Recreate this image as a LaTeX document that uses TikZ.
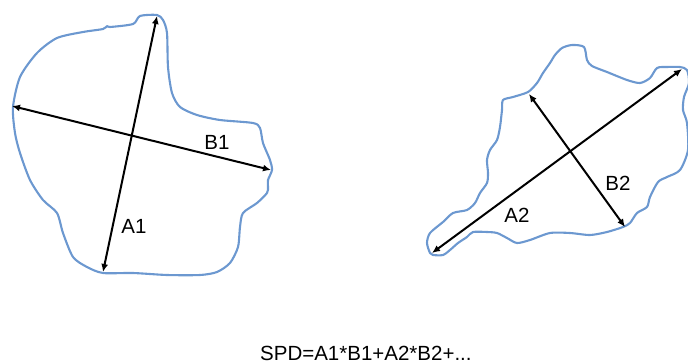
\documentclass[tikz,border=0pt]{standalone}
\usepackage{fontspec}
\setmainfont{Liberation Sans}
\usetikzlibrary{arrows.meta}
\definecolor{outline}{RGB}{108,152,208}
\tikzset{
  particle/.style={draw=outline, line width=2.1pt, line join=round},
  axis/.style={draw=black, line width=2pt, {Latex[length=8pt,width=7pt]}-{Latex[length=8pt,width=7pt]}},
  lbl/.style={font=\fontsize{20.5}{24}\selectfont, inner sep=0pt}
}
\begin{document}
\begin{tikzpicture}[x=1pt,y=-1pt]
\useasboundingbox (0,0) rectangle (688,364);
\clip (0,0) rectangle (688,364);

% left particle outline
\draw[particle] plot[smooth cycle, tension=0.45] coordinates {
  (13,107) (20,77) (37,53) (57,38) (83,32) (103,29) (107,26) (110,27)
  (133,24) (140,16) (157,15) (163,20) (167,33) (168,67) (172,93)
  (180,107) (197,115) (220,120) (253,123) (260,128) (263,143)
  (270,160) (272,170) (268,180) (268,187) (267,193) (257,203)
  (243,213) (240,227) (238,247) (230,263) (217,272) (200,275)
  (167,275) (133,273) (103,273) (87,267) (73,257) (63,233)
  (57,213) (43,200) (30,180) (20,153) (15,133)};

% right particle outline
\draw[particle] plot[smooth cycle, tension=0.45] coordinates {
  (430,253) (427,243) (430,233) (443,222) (453,213) (467,210)
  (475,203) (480,193) (487,183) (488,173) (487,160) (490,150)
  (497,140) (500,127) (502,110) (503,100) (513,97) (528,92)
  (537,83) (543,73) (550,63) (555,55) (562,48) (572,45) (584,47)
  (587,60) (592,66) (607,72) (627,80) (640,83) (650,78) (657,68)
  (667,67) (680,67) (687,70) (689,83) (684,97) (683,110) (687,123)
  (688,150) (680,170) (667,177) (658,182) (650,197) (647,207)
  (637,213) (630,223) (623,227) (607,232) (590,235) (570,233)
  (550,233) (530,240) (517,243) (507,238) (497,233) (487,232)
  (473,232) (467,237) (458,243) (450,250) (443,255) (433,255)};

% axis end points
\coordinate (a1top) at (157,16);
\coordinate (a1bot) at (103,272);
\coordinate (b1lft) at (12,106);
\coordinate (b1rgt) at (271,170);
\coordinate (a2bot) at (432,253);
\coordinate (a2top) at (682,69);
\coordinate (b2top) at (529,94);
\coordinate (b2bot) at (625,227);

\draw[axis] (a1top) -- (a1bot);
\draw[axis] (b1lft) -- (b1rgt);
\draw[axis] (a2bot) -- (a2top);
\draw[axis] (b2top) -- (b2bot);

\node[lbl] (labB1) at (217,142) {B1};
\node[lbl] (labA1) at (134,226) {A1};
\node[lbl] (labA2) at (517,215) {A2};
\node[lbl] (labB2) at (618,183) {B2};

\node[lbl, anchor=base west] (formula) at (260,360) {SPD=A1*B1+A2*B2+...};
\end{tikzpicture}
\end{document}
